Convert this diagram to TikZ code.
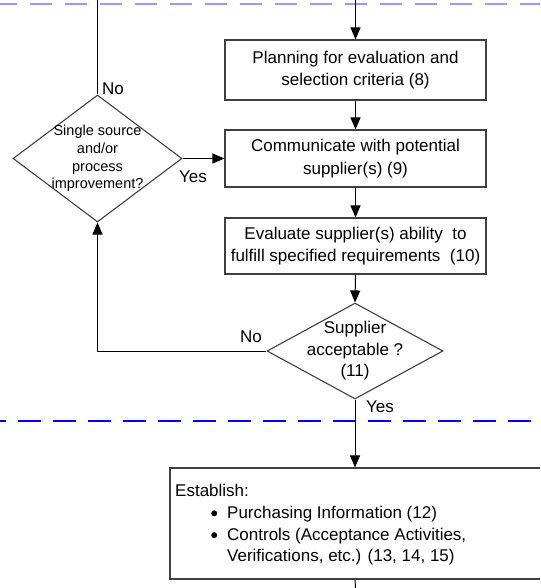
\documentclass[tikz,border=0pt]{standalone}
\usepackage{fontspec}
\setmainfont{Liberation Sans}
\usetikzlibrary{shapes.geometric,arrows.meta}
\definecolor{lightdash}{RGB}{153,153,255}
\definecolor{bluedash}{RGB}{0,0,255}
\newcommand{\mybullet}{\tikz[baseline=-5pt]\fill[black] (0pt,0pt) circle[radius=3pt];}
\begin{document}
\begin{tikzpicture}[x=1pt,y=-1pt,
  box/.style={draw=black!75, line width=1.1pt, rectangle, inner sep=0pt, minimum width=261pt, align=center, font=\fontsize{17}{22.5}\selectfont},
  dia/.style={draw=black!75, line width=1.1pt, diamond, inner sep=0pt},
  conn/.style={line width=1pt, draw=black},
  arr/.style={conn, -{Triangle[length=12pt,width=10pt]}},
  lbl/.style={font=\fontsize{17}{20}\selectfont, inner sep=0pt},
  dtext/.style={align=center, inner sep=0pt}]
\useasboundingbox (0,0) rectangle (540,588);
\clip (0,0) rectangle (540,588);
% swimlane separators
\draw[draw=lightdash, line width=1.2pt, dash pattern=on 22pt off 13pt] (-5,4) -- (545,4);
\draw[draw=bluedash, line width=2.7pt, dash pattern=on 23pt off 12pt] (-17,421) -- (545,421);
% nodes
\node[box, minimum height=60pt] (b1) at (355.5,70) {Planning for evaluation and\\selection criteria (8)};
\node[box, minimum height=57pt] (b2) at (355.5,158.5) {Communicate with potential\\supplier(s) (9)};
\node[box, minimum height=56pt] (b3) at (355.5,246) {Evaluate supplier(s) ability~ to\\fulfill specified requirements~ (10)};
\node[dia, minimum width=176pt, minimum height=96pt,
  label={[dtext, font=\fontsize{17}{21.5}\selectfont]center:{Supplier\\acceptable ?\\(11)}}] (d2) at (355,351) {};
\node[dia, minimum width=169pt, minimum height=127pt,
  label={[dtext, font=\fontsize{14.5}{17.7}\selectfont]center:{Single source\\and/or\\process\\improvement?}}] (d1) at (97.5,158.5) {};
\node[draw=black!75, line width=1.1pt, rectangle, inner sep=0pt, minimum width=380pt, minimum height=111pt] (b4) at (360,523.5) {};
\node[anchor=north west, align=left, inner sep=0pt, font=\fontsize{17}{21.8}\selectfont] (b4t) at (175,484)
  {Establish:\\
   \makebox[52pt][r]{\mybullet\hspace{10pt}}Purchasing Information (12)\\
   \makebox[52pt][r]{\mybullet\hspace{10pt}}Controls (Acceptance Activities,\\
   \hspace*{52pt}Verifications, etc.) (13, 14, 15)};
% free ends
\coordinate (top1) at (97.5,0);
\coordinate (top2) at (355.5,0);
\coordinate (bot) at (355.5,588);
% labels
\node[lbl, anchor=west] (no1) at (102,89) {No};
\node[lbl] (yes1) at (193,177) {Yes};
\node[lbl] (no2) at (251,337) {No};
\node[lbl] (yes2) at (380,407) {Yes};
% connectors
\draw[conn] (d1.north) -- (top1);
\draw[arr] (top2) -- (b1.north);
\draw[arr] (b1.south) -- (b2.north);
\draw[arr] (b2.south) -- (b3.north);
\draw[arr] (b3.south) -- (d2.north);
\draw[arr] (d1.east) -- (b2.west);
\draw[arr] (d2.west) -| (d1.south);
\draw[arr] (d2.south) -- (b4.north -| d2.south);
\draw[conn] (b4.south -| d2.south) -- (bot);
\end{tikzpicture}
\end{document}
